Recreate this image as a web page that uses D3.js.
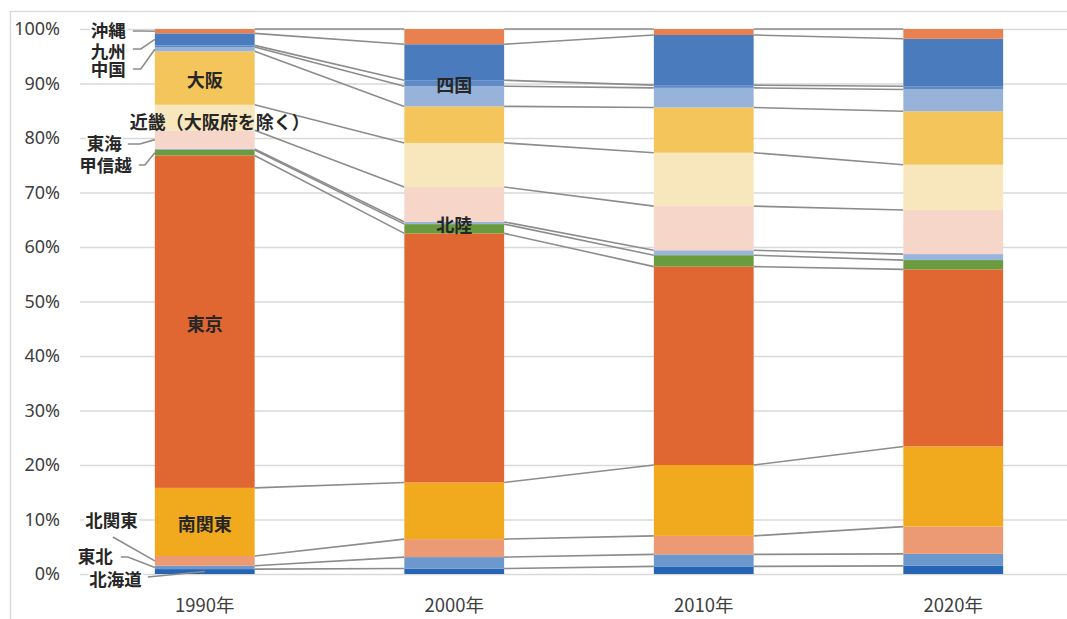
<!DOCTYPE html>
<html><head><meta charset="utf-8">
<script src="https://cdn.jsdelivr.net/npm/d3@7"></script>
<style>body{margin:0;background:#fff}svg{display:block}</style>
</head><body>
<svg id="c" width="1067" height="619"></svg>
<script>
// ---------- data (percent shares, stacked bottom -> top) ----------
const years = ["1990年", "2000年", "2010年", "2020年"];
const regions = ["北海道", "東北", "北関東", "南関東", "東京", "甲信越", "北陸", "東海", "近畿", "大阪", "中国", "四国", "九州", "沖縄"];
const share1990 = [0.9, 0.6, 1.8, 12.5, 61.0, 1.0, 0.2, 3.4, 4.7, 9.8, 0.8, 0.3, 2.2, 0.8];
const share2000 = [1.0, 2.1, 3.3, 10.4, 45.7, 1.7, 0.4, 6.4, 8.1, 6.7, 3.7, 1.1, 6.6, 2.8];
const share2010 = [1.4, 2.2, 3.4, 13.0, 36.4, 2.1, 0.9, 8.1, 9.8, 8.3, 3.6, 0.5, 9.2, 1.1];
const share2020 = [1.5, 2.2, 5.0, 14.7, 32.5, 1.7, 1.1, 8.1, 8.3, 9.8, 4.0, 0.6, 8.7, 1.8];
const tickValues = [0, 0.1, 0.2, 0.3, 0.4, 0.5, 0.6, 0.7, 0.8, 0.9, 1.0];
const colors = ["#2565B3", "#6C98CD", "#EC9A74", "#F1AA1E", "#E06732", "#6B9B3F", "#9AB5DB",
                "#F6D6C8", "#F8E7BC", "#F4C55B", "#97B3D9", "#5F8AC6", "#4A7CBD", "#E8804F"];

const allShares = [share1990, share2000, share2010, share2020];
const table = years.map((yr, i) => {
  const o = { year: yr };
  regions.forEach((r, j) => o[r] = allShares[i][j]);
  return o;
});

// ---------- layout ----------
const svg = d3.select("#c");
const plotLeft = 80, plotRight = 1078, y0 = 574, y1 = 29;
const font = "'Noto Sans','Noto Sans CJK JP',sans-serif";
const jfont = "'Noto Sans CJK JP','Noto Sans',sans-serif";

const x = d3.scaleBand().domain(years).range([plotLeft, plotRight]).paddingInner(0.6).paddingOuter(0.3);
const y = d3.scaleLinear().domain([0, 1]).range([y0, y1]);
const color = d3.scaleOrdinal().domain(regions).range(colors);

const stack = d3.stack().keys(regions).offset(d3.stackOffsetExpand);
const layers = stack(table);

// chart border
svg.append("rect").attr("x", 10.5).attr("y", 11.5).attr("width", 1200).attr("height", 800)
  .attr("fill", "none").attr("stroke", "#d9d9d9").attr("stroke-width", 1.3);

// y axis + gridlines
const yAxis = svg.append("g").attr("transform", `translate(${plotLeft},0)`)
  .call(d3.axisLeft(y).tickValues(tickValues).tickFormat(d3.format(".0%"))
    .tickSize(-(plotRight - plotLeft)).tickPadding(20));
yAxis.select(".domain").remove();
yAxis.selectAll(".tick line").attr("stroke", "#d9d9d9").attr("stroke-width", 1.4);
yAxis.selectAll(".tick text").attr("fill", "#404040").attr("font-size", 18).attr("font-family", font);

// x axis
const xAxis = svg.append("g").attr("transform", `translate(0,${y0})`)
  .call(d3.axisBottom(x).tickSize(0).tickPadding(25));
xAxis.select(".domain").remove();
xAxis.selectAll(".tick text").attr("fill", "#404040").attr("font-size", 18.5).attr("font-family", jfont);

// series lines (between bar tops of each series)
const lineG = svg.append("g");
layers.forEach(layer => {
  for (let i = 0; i < years.length - 1; i++) {
    lineG.append("line")
      .attr("x1", x(years[i]) + x.bandwidth()).attr("y1", y(layer[i][1]))
      .attr("x2", x(years[i + 1])).attr("y2", y(layer[i + 1][1]))
      .attr("stroke", "#8c8c8c").attr("stroke-width", 1.6);
  }
});

// bars
svg.append("g").selectAll("g").data(layers).join("g")
  .attr("fill", d => color(d.key))
  .selectAll("rect").data(d => d).join("rect")
  .attr("x", d => x(d.data.year)).attr("width", x.bandwidth())
  .attr("y", d => y(d[1])).attr("height", d => y(d[0]) - y(d[1]));

const seg = (key, year) => layers.find(l => l.key === key)[years.indexOf(year)];

// in-bar labels
const inLabels = [
  { key: "大阪", year: "1990年" }, { key: "東京", year: "1990年" }, { key: "南関東", year: "1990年" },
  { key: "四国", year: "2000年" }, { key: "北陸", year: "2000年" }
];
inLabels.forEach(l => {
  const s = seg(l.key, l.year);
  svg.append("text").attr("x", x(l.year) + x.bandwidth() / 2).attr("y", y((s[0] + s[1]) / 2) + 1)
    .attr("text-anchor", "middle").attr("dominant-baseline", "central")
    .attr("font-family", jfont).attr("font-weight", "bold").attr("font-size", 18).attr("fill", "#262626")
    .text(l.key);
});

// 近畿 label overlapping the 1990 bar
{
  const s = seg("近畿", "1990年");
  svg.append("text").attr("x", x("1990年") - 25).attr("y", y((s[0] + s[1]) / 2) + 3)
    .attr("dominant-baseline", "central")
    .attr("font-family", jfont).attr("font-weight", "bold").attr("font-size", 18).attr("fill", "#262626")
    .text("近畿（大阪府を除く）");
}

// outside labels with leader lines (offsets relative to 1990 bar left edge)
const bx = x("1990年");
const outLabels = [
  { key: "沖縄", tx: -29, ty: 29, pts: [[-22, 31], [-12, 31]] },
  { key: "九州", tx: -29, ty: 50, pts: [[-22, 49], [-14, 49]] },
  { key: "中国", tx: -29, ty: 68, pts: [[-22, 69], [-14, 69]] },
  { key: "東海", tx: -33, ty: 142, pts: [[-27, 144], [-15, 144]] },
  { key: "甲信越", tx: -23, ty: 164, pts: [[-16, 165], [-10, 165]] },
  { key: "北関東", tx: -17, ty: 519, pts: [[-42, 537]] },
  { key: "東北", tx: -42, ty: 555, pts: [[-34, 557], [-27, 557]] },
  { key: "北海道", tx: -13, ty: 578, pts: [[-7, 577]], mid: true }
];
outLabels.forEach(l => {
  const s = seg(l.key, "1990年");
  const ax = l.mid ? bx + x.bandwidth() / 2 : bx;
  const ay = y((s[0] + s[1]) / 2);
  const p = l.pts.map(q => [bx + q[0], q[1]]).concat([[ax, ay]]);
  svg.append("path").attr("d", d3.line()(p)).attr("fill", "none")
    .attr("stroke", "#8c8c8c").attr("stroke-width", 1.6);
});
outLabels.forEach(l => {
  const g = svg.append("g");
  const bg = g.append("rect").attr("fill", "#fff");
  const t = g.append("text").attr("x", bx + l.tx).attr("y", l.ty)
    .attr("text-anchor", "end").attr("dominant-baseline", "central")
    .attr("font-family", jfont).attr("font-weight", "bold").attr("font-size", 17.5).attr("fill", "#262626")
    .text(l.key);
  const b = t.node().getBBox();
  bg.attr("x", b.x - 1).attr("y", l.ty - 8).attr("width", b.width + 2).attr("height", 16);
});
</script>
</body></html>
